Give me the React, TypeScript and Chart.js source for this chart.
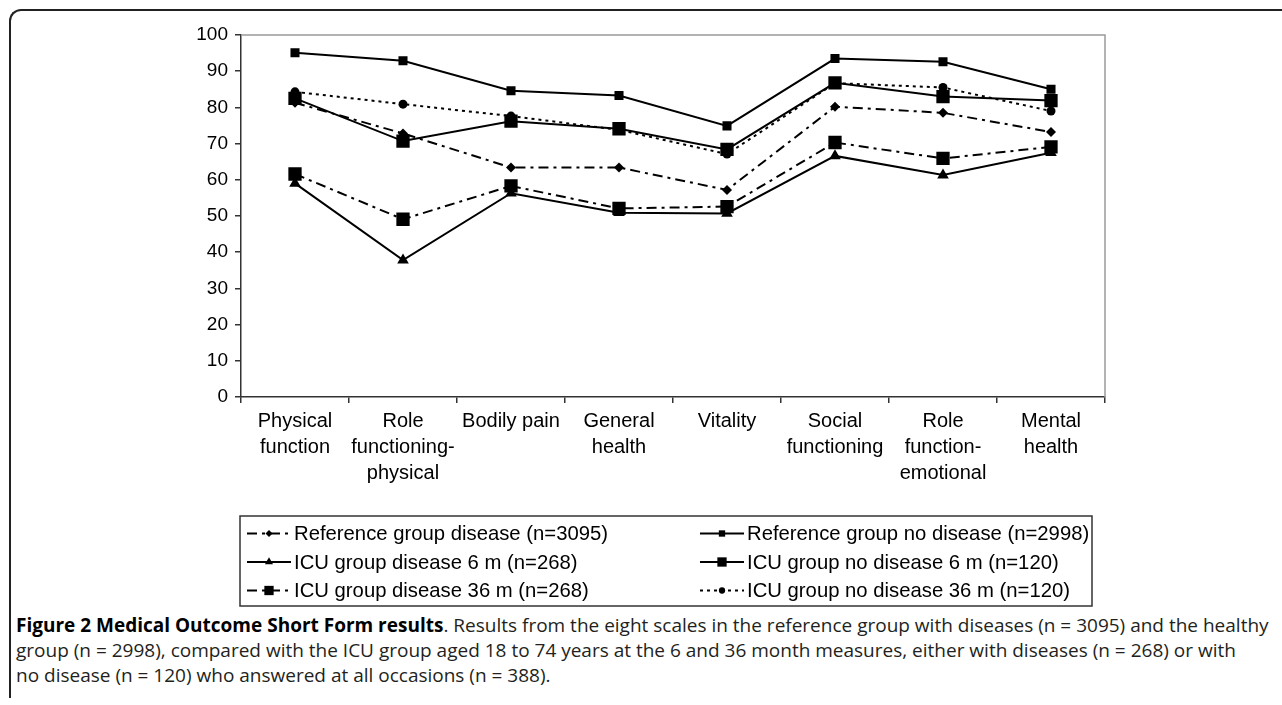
import React, { useEffect, useRef } from 'react';
import { Chart, registerables } from 'chart.js';

Chart.register(...registerables);

// ---------- data ----------
const categories: string[][] = [
  ['Physical', 'function'],
  ['Role', 'functioning-', 'physical'],
  ['Bodily pain'],
  ['General', 'health'],
  ['Vitality'],
  ['Social', 'functioning'],
  ['Role', 'function-', 'emotional'],
  ['Mental', 'health'],
];

const seriesLabels = [
  'Reference group disease (n=3095)',
  'Reference group no disease (n=2998)',
  'ICU group disease 6 m (n=268)',
  'ICU group no disease 6 m (n=120)',
  'ICU group disease 36 m (n=268)',
  'ICU group no disease 36 m (n=120)',
];

const refDisease = [81.3, 72.8, 63.4, 63.4, 57.2, 80.2, 78.5, 73.2];
const refNoDisease = [95.1, 92.9, 84.6, 83.3, 74.9, 93.5, 92.6, 85.0];
const icuDisease6 = [59.0, 37.8, 56.3, 50.9, 50.7, 66.6, 61.3, 67.5];
const icuNoDisease6 = [82.5, 70.7, 76.2, 74.1, 68.4, 86.8, 83.0, 81.9];
const icuDisease36 = [61.6, 49.1, 58.3, 52.1, 52.6, 70.3, 65.9, 69.1];
const icuNoDisease36 = [84.3, 80.9, 77.6, 73.8, 67.1, 86.7, 85.5, 79.0];

const yMin = 0;
const yMax = 100;
const yStep = 10;

// ---------- styles ----------
const FONT = "'Liberation Sans', Arial, sans-serif";
const AXIS = '#333333';
const DASH_DOT = [10, 5, 3, 5];
const DOTTED = [3, 4];

function drawMarker(ctx: CanvasRenderingContext2D, style: string, x: number, y: number, r: number) {
  ctx.beginPath();
  if (style === 'rect') {
    const s = Math.SQRT1_2 * r;
    ctx.rect(x - s, y - s, 2 * s, 2 * s);
  } else if (style === 'rectRot') {
    ctx.moveTo(x - r, y);
    ctx.lineTo(x, y - r);
    ctx.lineTo(x + r, y);
    ctx.lineTo(x, y + r);
    ctx.closePath();
  } else if (style === 'triangle') {
    ctx.moveTo(x, y - r);
    ctx.lineTo(x + 0.866 * r, y + 0.5 * r);
    ctx.lineTo(x - 0.866 * r, y + 0.5 * r);
    ctx.closePath();
  } else {
    ctx.arc(x, y, r, 0, Math.PI * 2);
  }
  ctx.fill();
}

const frameAndLegend = {
  id: 'frameAndLegend',
  beforeDatasetsDraw(chart: any) {
    const { ctx, chartArea } = chart;
    ctx.save();
    ctx.strokeStyle = '#9a9a9a';
    ctx.lineWidth = 1.5;
    ctx.beginPath();
    ctx.moveTo(chartArea.left, chartArea.top);
    ctx.lineTo(chartArea.right, chartArea.top);
    ctx.lineTo(chartArea.right, chartArea.bottom);
    ctx.stroke();
    ctx.restore();
  },
  afterDraw(chart: any) {
    const ctx: CanvasRenderingContext2D = chart.ctx;
    const box = { x: 90, y: 496, w: 852, h: 90 };
    ctx.save();
    ctx.strokeStyle = AXIS;
    ctx.lineWidth = 1.5;
    ctx.strokeRect(box.x, box.y, box.w, box.h);
    ctx.font = `20.3px ${FONT}`;
    ctx.textBaseline = 'middle';
    ctx.textAlign = 'left';
    chart.data.datasets.forEach((ds: any, i: number) => {
      const col = i % 2;
      const row = Math.floor(i / 2);
      const cy = box.y + 17.5 + row * 28.5;
      const x0 = col === 0 ? box.x + 7 : box.x + 460;
      const x1 = x0 + 44;
      ctx.strokeStyle = ds.borderColor;
      ctx.lineWidth = ds.borderWidth;
      ctx.setLineDash(ds.borderDash || []);
      ctx.beginPath();
      ctx.moveTo(x0, cy);
      ctx.lineTo(x1, cy);
      ctx.stroke();
      ctx.setLineDash([]);
      ctx.fillStyle = ds.pointBackgroundColor;
      drawMarker(ctx, ds.pointStyle, (x0 + x1) / 2, cy, ds.pointRadius * 0.7);
      ctx.fillStyle = '#000';
      ctx.fillText(ds.label, x1 + 3, cy + 1);
    });
    ctx.restore();
  },
};

export default function App() {
  const canvasRef = useRef<HTMLCanvasElement | null>(null);

  useEffect(() => {
    const canvas = canvasRef.current;
    if (!canvas) return;
    const mk = (label: string, data: number[], dash: number[], pointStyle: string, r: number) => ({
      label,
      data,
      borderColor: '#000',
      backgroundColor: '#000',
      borderWidth: 2,
      borderDash: dash,
      pointStyle,
      pointRadius: r,
      pointBackgroundColor: '#000',
      pointBorderColor: '#000',
      pointBorderWidth: 0,
      tension: 0,
      fill: false,
    });
    const chart = new Chart(canvas, {
      type: 'line',
      data: {
        labels: categories,
        datasets: [
          mk(seriesLabels[0], refDisease, DASH_DOT, 'rectRot', 5),
          mk(seriesLabels[1], refNoDisease, [], 'rect', 6.4),
          mk(seriesLabels[2], icuDisease6, [], 'triangle', 6.7),
          mk(seriesLabels[3], icuNoDisease6, [], 'rect', 9.4),
          mk(seriesLabels[4], icuDisease36, DASH_DOT, 'rect', 9.4),
          mk(seriesLabels[5], icuNoDisease36, DOTTED, 'circle', 4.5),
        ] as any,
      },
      options: {
        responsive: false,
        animation: false,
        layout: { padding: { left: 0, top: 15, right: 25, bottom: 103 } },
        plugins: {
          legend: { display: false },
          tooltip: { enabled: false },
        },
        scales: {
          x: {
            type: 'category',
            offset: true,
            ticks: {
              color: '#000',
              font: { family: FONT, size: 20, lineHeight: 1.3 },
              maxRotation: 0,
              minRotation: 0,
              autoSkip: false,
              padding: 5,
            },
            grid: {
              offset: true,
              drawOnChartArea: false,
              drawTicks: true,
              tickLength: 6,
              color: AXIS,
              lineWidth: 1.5,
            },
            border: { display: true, color: AXIS, width: 1.5 },
            afterFit: (scale: any) => {
              scale.height = 110;
              scale.paddingLeft = 0;
              scale.paddingRight = 0;
            },
          },
          y: {
            type: 'linear',
            min: yMin,
            max: yMax,
            ticks: {
              stepSize: yStep,
              color: '#000',
              font: { family: FONT, size: 19 },
              padding: 7,
            },
            grid: {
              drawOnChartArea: false,
              drawTicks: true,
              tickLength: 6,
              color: AXIS,
              lineWidth: 1.5,
            },
            border: { display: true, color: AXIS, width: 1.5 },
            afterFit: (scale: any) => {
              scale.width = 91;
              scale.paddingTop = 0;
              scale.paddingBottom = 0;
            },
          },
        },
      } as any,
      plugins: [frameAndLegend],
    });
    return () => chart.destroy();
  }, []);

  return (
    <div style={{ position: 'fixed', inset: 0, overflow: 'hidden', background: '#fff' }}>
      <div
        style={{
          position: 'absolute',
          left: 9,
          top: 9,
          width: 1320,
          height: 687,
          borderTop: '2px solid #222',
          borderLeft: '2px solid #222',
          borderTopLeftRadius: 12,
        }}
      />
      <canvas
        ref={canvasRef}
        width={980}
        height={590}
        style={{ position: 'absolute', left: 150, top: 20, width: 980, height: 590 }}
      />
      <div
        style={{
          position: 'absolute',
          left: 16,
          top: 613,
          whiteSpace: 'nowrap',
          fontFamily: "'Open Sans', sans-serif",
          fontSize: 19,
          lineHeight: '25px',
          color: '#231f20',
        }}
      >
        <b style={{ color: '#000' }}>Figure 2 Medical Outcome Short Form results</b>. Results from the eight scales in the
        reference group with diseases (n = 3095) and the healthy
        <br />
        group (n = 2998), compared with the ICU group aged 18 to 74 years at the 6 and 36 month measures, either with
        diseases (n = 268) or with
        <br />
        no disease (n = 120) who answered at all occasions (n = 388).
      </div>
    </div>
  );
}
